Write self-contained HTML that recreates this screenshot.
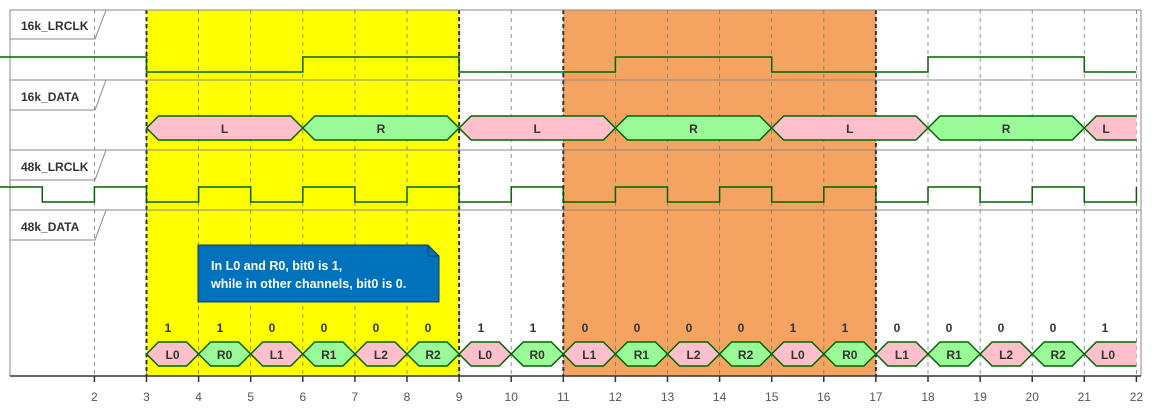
<!DOCTYPE html>
<html><head><style>
html,body{margin:0;padding:0;background:#fff;}
svg{display:block;font-family:"Liberation Sans",sans-serif;}
.lb{font-size:12px;font-weight:bold;fill:#333;}
.dt{font-size:12px;font-weight:bold;fill:#333;text-anchor:middle;}
.ax{font-size:12px;fill:#555;text-anchor:middle;}
.nt{font-size:12.5px;font-weight:600;fill:#fff;}
</style></head><body>
<svg id="s" width="1158" height="415" viewBox="0 0 1158 415" xmlns="http://www.w3.org/2000/svg">
<rect x="146.5" y="10" width="312.6" height="366" fill="#ffff00"/>
<rect x="563.3" y="10" width="312.6" height="366" fill="#f4a460"/>
<g id="grid"></g>
<g stroke="#888" stroke-width="1" fill="none">
<line x1="10" y1="10" x2="1141" y2="10"/>
<line x1="10" y1="80" x2="1141" y2="80"/>
<line x1="10" y1="150" x2="1141" y2="150"/>
<line x1="10" y1="210" x2="1141" y2="210"/>
<line x1="10" y1="10" x2="10" y2="376"/>
<line x1="1141" y1="10" x2="1141" y2="376"/>
<polyline points="10,39 95,39 106,10"/>
<polyline points="10,110 95,110 106,80"/>
<polyline points="10,180 95,180 106,150"/>
<polyline points="10,240 95,240 106,210"/>
</g>
<g id="sh"></g>
<text class="lb" x="21" y="30">16k_LRCLK</text>
<text class="lb" x="21" y="101">16k_DATA</text>
<text class="lb" x="21" y="171">48k_LRCLK</text>
<text class="lb" x="21" y="231">48k_DATA</text>
<g class="dt">
<text x="224.6" y="133">L</text><text x="380.9" y="133">R</text><text x="537.2" y="133">L</text><text x="693.5" y="133">R</text><text x="849.8" y="133">L</text><text x="1006.1" y="133">R</text><text x="1106" y="133">L</text>
</g>
<g class="dt">
<text x="172.5" y="359">L0</text><text x="224.6" y="359">R0</text><text x="276.7" y="359">L1</text><text x="328.8" y="359">R1</text><text x="380.9" y="359">L2</text><text x="433" y="359">R2</text>
<text x="485.1" y="359">L0</text><text x="537.2" y="359">R0</text><text x="589.3" y="359">L1</text><text x="641.4" y="359">R1</text><text x="693.5" y="359">L2</text><text x="745.6" y="359">R2</text>
<text x="797.7" y="359">L0</text><text x="849.8" y="359">R0</text><text x="901.9" y="359">L1</text><text x="954" y="359">R1</text><text x="1006.1" y="359">L2</text><text x="1058.2" y="359">R2</text><text x="1108" y="359">L0</text>
</g>
<g class="dt">
<text x="168" y="332">1</text><text x="220" y="332">1</text><text x="272" y="332">0</text><text x="324" y="332">0</text><text x="376" y="332">0</text><text x="428" y="332">0</text>
<text x="481" y="332">1</text><text x="533" y="332">1</text><text x="585" y="332">0</text><text x="637" y="332">0</text><text x="689" y="332">0</text><text x="741" y="332">0</text>
<text x="793" y="332">1</text><text x="845" y="332">1</text><text x="897" y="332">0</text><text x="949" y="332">0</text><text x="1001" y="332">0</text><text x="1053" y="332">0</text><text x="1105" y="332">1</text>
</g>
<g class="ax">
<text x="94.3" y="401">2</text><text x="146.5" y="401">3</text><text x="198.6" y="401">4</text><text x="250.7" y="401">5</text><text x="302.8" y="401">6</text><text x="354.9" y="401">7</text><text x="407" y="401">8</text><text x="459.1" y="401">9</text><text x="511.2" y="401">10</text><text x="563.3" y="401">11</text><text x="615.4" y="401">12</text><text x="667.5" y="401">13</text><text x="719.6" y="401">14</text><text x="771.7" y="401">15</text><text x="823.8" y="401">16</text><text x="875.9" y="401">17</text><text x="928" y="401">18</text><text x="980.1" y="401">19</text><text x="1032.2" y="401">20</text><text x="1084.3" y="401">21</text><text x="1136.4" y="401">22</text>
</g>
<path d="M198,245 L428,245 L439,256 L439,302 L198,302 Z" fill="#0071bb" stroke="#1a3a5a" stroke-width="1"/>
<path d="M428,245 L428,256 L439,256" fill="none" stroke="#1a3a5a" stroke-width="1"/>
<text class="nt" x="211" y="270">In L0 and R0, bit0 is 1,</text>
<text class="nt" x="211" y="288">while in other channels, bit0 is 0.</text>
</svg>
<script>
var X=function(t){return 146.5+(t-3)*52.1;};
var ns="http://www.w3.org/2000/svg";
function el(p,n,a){var e=document.createElementNS(ns,n);for(var k in a)e.setAttribute(k,a[k]);p.appendChild(e);return e;}
var g=document.getElementById('grid'),sh=document.getElementById('sh');
for(var t=2;t<=22;t++){el(g,'line',{x1:X(t),y1:10,x2:X(t),y2:376,stroke:'#777','stroke-width':0.8,'stroke-dasharray':'4,4'});}
[3,9,11,17].forEach(function(t){el(g,'line',{x1:X(t),y1:10,x2:X(t),y2:376,stroke:'#333','stroke-width':2,'stroke-dasharray':'4,3'});});
el(sh,'line',{x1:10,y1:376,x2:1141,y2:376,stroke:'#333','stroke-width':1.5});
for(var t=2;t<=22;t++)el(sh,'line',{x1:X(t),y1:376,x2:X(t),y2:382,stroke:'#333','stroke-width':1.5});
var hi=57,lo=72,p='0,'+hi+' '+X(3)+','+hi;var lv=false;
for(var t=3;t<22;t+=3){var y=lv?hi:lo;p+=' '+X(t)+','+y+' '+Math.min(X(t+3),X(22))+','+y;lv=!lv;}
el(sh,'polyline',{points:p,fill:'none',stroke:'#006400','stroke-width':1.5});
hi=187;lo=202;p='0,'+hi+' '+X(1)+','+hi;
for(var t=1;t<22;t++){var y=(t%2==1)?lo:hi;p+=' '+X(t)+','+y+' '+X(t+1)+','+y;}
p+=' '+X(22)+','+hi;
el(sh,'polyline',{points:p,fill:'none',stroke:'#006400','stroke-width':1.5});
function hex(a,b,cy,h,col,open){var s=12,x0=X(a),x1=X(b),pts;
 if(open){pts=[[x1,cy-h],[x0+s,cy-h],[x0,cy],[x0+s,cy+h],[x1,cy+h]];
  el(sh,'polygon',{points:pts.map(function(q){return q.join(',')}).join(' '),fill:col,stroke:'none'});
  el(sh,'polyline',{points:pts.map(function(q){return q.join(',')}).join(' '),fill:'none',stroke:'#006400','stroke-width':1.5});}
 else{pts=[[x0,cy],[x0+s,cy-h],[x1-s,cy-h],[x1,cy],[x1-s,cy+h],[x0+s,cy+h]];
  el(sh,'polygon',{points:pts.map(function(q){return q.join(',')}).join(' '),fill:col,stroke:'#006400','stroke-width':1.5});}}
var P='#ffc0cb',G='#98fb98';
for(var i=0;i<6;i++)hex(3+3*i,6+3*i,128,12,i%2?G:P,false);
hex(21,22,128,12,P,true);
for(var t=3;t<21;t++)hex(t,t+1,354,12,(t-3)%2?G:P,false);
hex(21,22,354,12,P,true);
</script>
</body></html>
